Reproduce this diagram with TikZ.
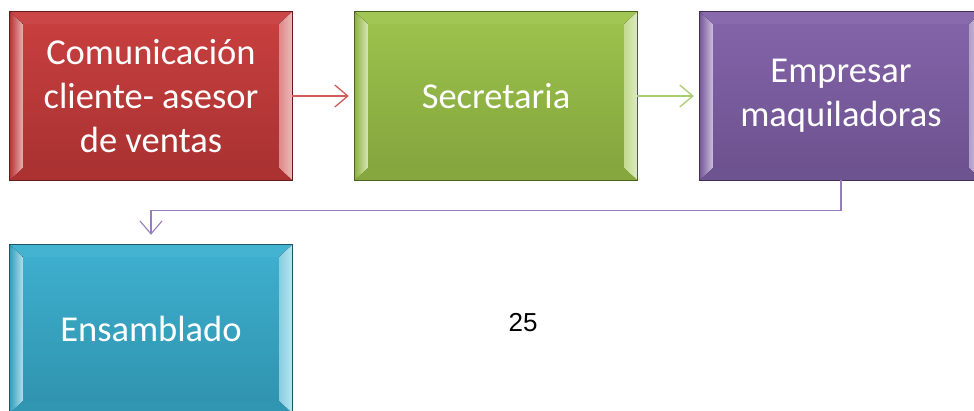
\documentclass[tikz,border=0pt]{standalone}
\usepackage{fontspec}
\setmainfont{Carlito}
\newfontfamily\numfont{Liberation Sans}
\usetikzlibrary{arrows.meta}

\definecolor{boxred}{RGB}{200,58,58}
\definecolor{boxgreen}{RGB}{155,194,72}
\definecolor{boxpurple}{RGB}{128,96,168}
\definecolor{boxcyan}{RGB}{56,174,206}
\definecolor{linkred}{RGB}{210,90,90}
\definecolor{linkgreen}{RGB}{170,205,110}
\definecolor{linkpurple}{RGB}{150,125,190}

\tikzset{
  stage/.style={minimum width=282pt, minimum height=168pt, inner sep=0pt,
    align=center, text=white, font=\fontsize{36.5}{44}\selectfont},
  link/.style={line width=1.3pt, -{Straight Barb[length=13pt,width=22pt]}},
}

% bevelled frame drawn around a named box
\newcommand\bevelface[2]{%
  \fill[#2!94!white]
    (#1.north west) -- (#1.north east) -- ([shift={(-13,12)}]#1.north east)
    -- ([shift={(13,12)}]#1.north west) -- cycle;
  \fill[left color=#2!92!black, right color=#2!40!white]
    (#1.north west) -- ([shift={(13,12)}]#1.north west)
    -- ([shift={(13,-12)}]#1.south west) -- (#1.south west) -- cycle;
  \fill[left color=#2!60!white, right color=#2!35!white]
    (#1.north east) -- ([shift={(-13,12)}]#1.north east)
    -- ([shift={(-13,-12)}]#1.south east) -- (#1.south east) -- cycle;
  \fill[#2!86!black]
    (#1.south west) -- (#1.south east) -- ([shift={(-13,-12)}]#1.south east)
    -- ([shift={(13,-12)}]#1.south west) -- cycle;
  \draw[#2!50!black, line width=0.8pt] (#1.north west) rectangle (#1.south east);
}

\begin{document}
\begin{tikzpicture}[x=1pt, y=-1pt]
  \useasboundingbox (0,0) rectangle (974,410);
  \clip (0,0) rectangle (974,410);

  \node[stage, top color=boxred!97!white, bottom color=boxred!84!black]
    (com) at (151,96) {Comunicación\\cliente- asesor\\de ventas};
  \bevelface{com}{boxred}

  \node[stage, top color=boxgreen!97!white, bottom color=boxgreen!84!black]
    (sec) at (496,96) {Secretaria};
  \bevelface{sec}{boxgreen}

  \node[stage, top color=boxpurple!97!white, bottom color=boxpurple!84!black]
    (emp) at (841,96) {Empresar\\maquiladoras};
  \bevelface{emp}{boxpurple}

  \node[stage, top color=boxcyan!97!white, bottom color=boxcyan!84!black]
    (ens) at (151,329) {Ensamblado};
  \bevelface{ens}{boxcyan}

  \node[font=\numfont\fontsize{26}{30}\selectfont] (pg) at (523,323) {25};

  % connectors
  \draw[link, linkred, shorten >=6pt] (com.east) -- (sec.west);
  \draw[link, linkgreen, shorten >=6pt] (sec.east) -- (emp.west);
  \draw[link, linkpurple, line width=1.1pt, shorten >=10pt]
    (emp.south) -- ++(0,30) -| (ens.north);
\end{tikzpicture}
\end{document}
